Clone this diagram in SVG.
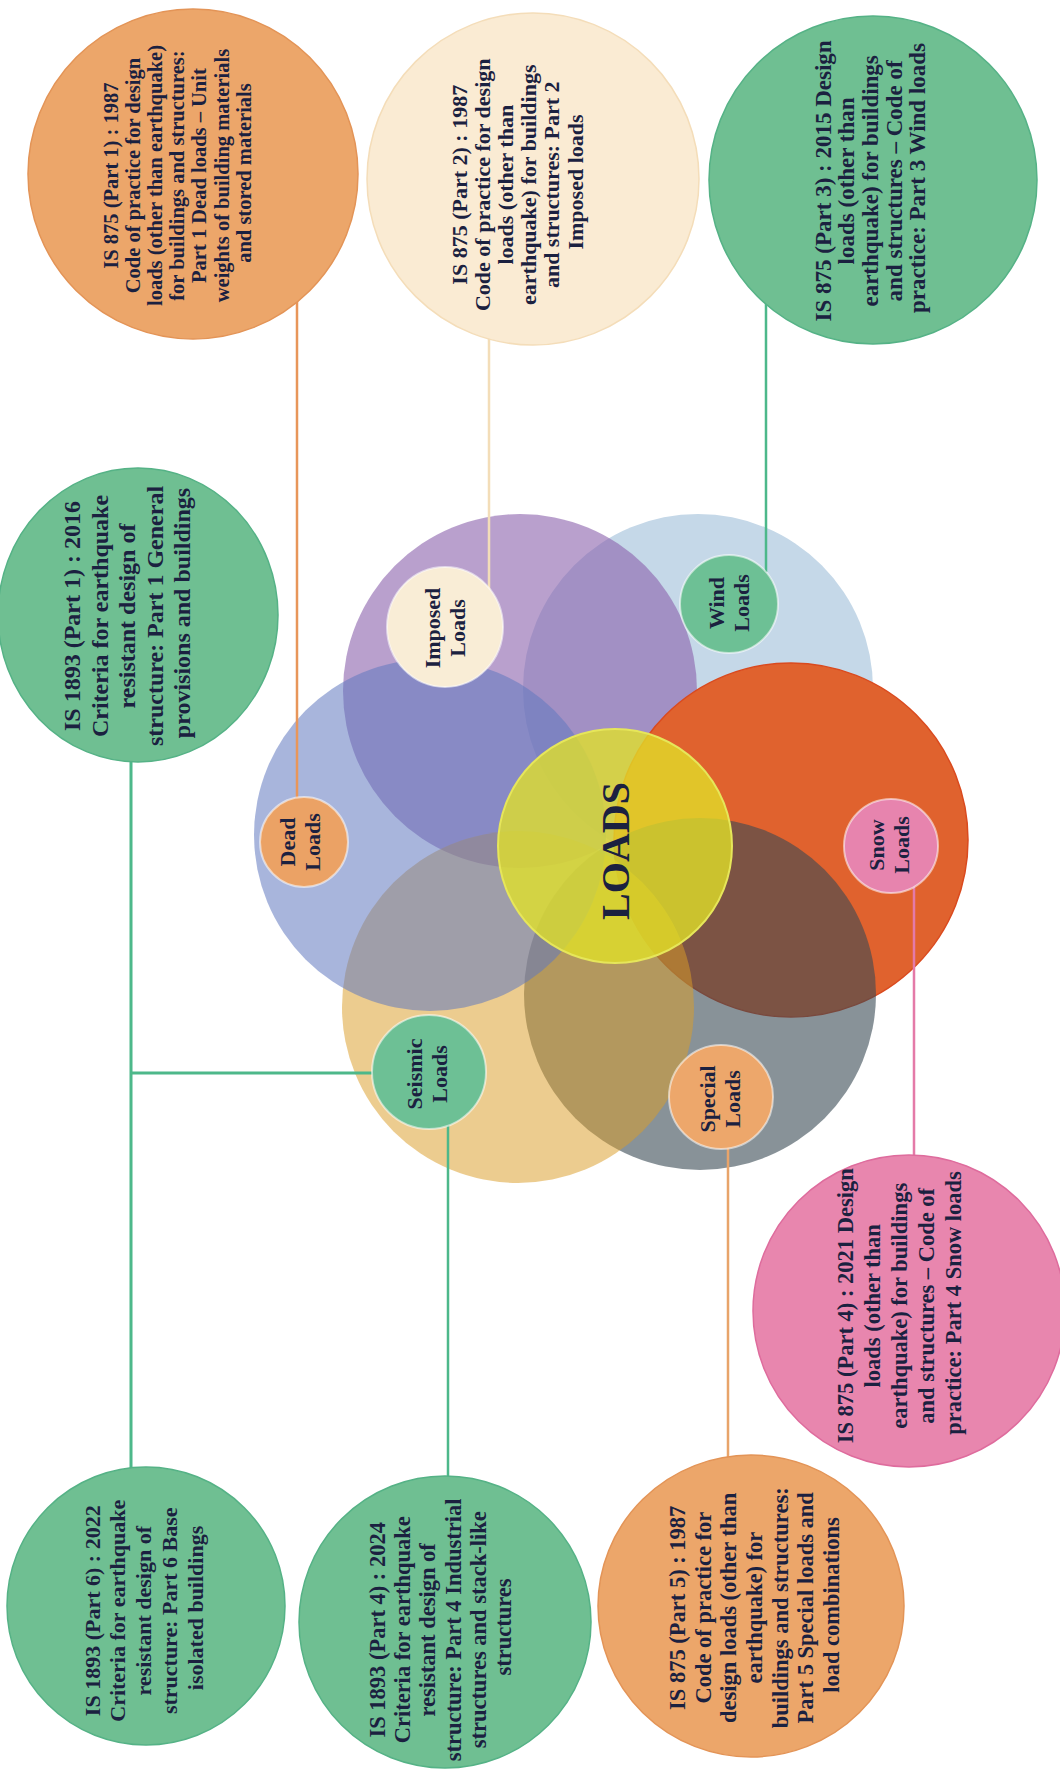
<svg xmlns="http://www.w3.org/2000/svg" width="1060" height="1772" viewBox="0 0 1060 1772">
<style>
.t{font-family:"Liberation Serif","Times New Roman",serif;font-weight:bold;fill:#1b2140;text-anchor:middle}
.sm{font-size:22px}
.big{stroke-width:1.5}
.lbl{stroke:#ffffff;stroke-opacity:0.55;stroke-width:2}
.grn{fill:#6FBF92;stroke:#55B286;stroke-width:1.5}
.org{fill:#ECA66A;stroke:#E39457;stroke-width:1.5}
.pnk{fill:#E886AE;stroke:#DE6C9D;stroke-width:1.5}
.crm{fill:#FAEBD3;stroke:#F4DDB9;stroke-width:1.5}
.ln{fill:none;stroke-width:2.5}
</style>
<rect width="1060" height="1772" fill="#ffffff"/>

<g id="venn">
  <circle id="c-wind" cx="698" cy="689" r="175" fill="#C5D8E8"/>
  <circle id="c-imposed" cx="520" cy="691" r="177" fill="rgb(138,97,172)" fill-opacity="0.6"/>
  <circle id="c-snow" cx="791" cy="840" r="177" fill="#E0622E" stroke="#DA4A1E" class="big"/>
  <circle id="c-special" cx="700" cy="994" r="176" fill="rgb(57,73,83)" fill-opacity="0.6"/>
  <circle id="c-seismic" cx="518" cy="1007" r="176" fill="rgb(218,157,40)" fill-opacity="0.52"/>
  <circle id="c-dead" cx="430" cy="835" r="176" fill="rgb(97,120,191)" fill-opacity="0.55"/>
</g>

<g id="loads">
  <circle cx="615" cy="846" r="117" fill="rgb(225,225,40)" fill-opacity="0.78" stroke="#E6E65A" stroke-width="2"/>
  <text class="t" font-size="40" transform="translate(616,851) rotate(-90)" x="0" y="13">LOADS</text>
</g>

<g id="connectors" class="ln">
  <line x1="297" y1="250" x2="297" y2="800" stroke="#E8965A"/>
  <line x1="489" y1="300" x2="489" y2="590" stroke="#F3DDB8"/>
  <line x1="766" y1="260" x2="766" y2="572" stroke="#4DB88A"/>
  <line x1="131" y1="700" x2="131" y2="1470" stroke="#4DB88A" stroke-width="3"/>
  <line x1="131" y1="1073" x2="375" y2="1073" stroke="#4DB88A" stroke-width="3"/>
  <line x1="448" y1="1100" x2="448" y2="1480" stroke="#4DB88A"/>
  <line x1="728" y1="1120" x2="728" y2="1460" stroke="#E8A46A"/>
  <line x1="914" y1="870" x2="914" y2="1160" stroke="#E47AA8"/>
</g>

<g id="dead-loads">
  <ellipse cx="304" cy="842" rx="44" ry="45" fill="#EBA265" class="lbl"/>
  <text class="t sm" transform="translate(300,842) rotate(-90)"><tspan x="0" y="-5">Dead</tspan><tspan x="0" y="20">Loads</tspan></text>
</g>
<g id="imposed-loads">
  <ellipse cx="445" cy="627" rx="58" ry="60" fill="#F9EDD6" class="lbl"/>
  <text class="t sm" transform="translate(445,628) rotate(-90)"><tspan x="0" y="-5">Imposed</tspan><tspan x="0" y="20">Loads</tspan></text>
</g>
<g id="wind-loads">
  <circle cx="729" cy="604" r="49" fill="#6DC095" class="lbl"/>
  <text class="t sm" transform="translate(729,603) rotate(-90)"><tspan x="0" y="-5">Wind</tspan><tspan x="0" y="20">Loads</tspan></text>
</g>
<g id="snow-loads">
  <circle cx="891" cy="846" r="47" fill="#E784AE" class="lbl"/>
  <text class="t sm" transform="translate(889,845) rotate(-90)"><tspan x="0" y="-5">Snow</tspan><tspan x="0" y="20">Loads</tspan></text>
</g>
<g id="seismic-loads">
  <circle cx="429" cy="1072" r="57" fill="#6DC095" class="lbl"/>
  <text class="t sm" transform="translate(427,1074) rotate(-90)"><tspan x="0" y="-5">Seismic</tspan><tspan x="0" y="20">Loads</tspan></text>
</g>
<g id="special-loads">
  <circle cx="721" cy="1097" r="52" fill="#EDA76B" class="lbl"/>
  <text class="t sm" transform="translate(720,1099) rotate(-90)"><tspan x="0" y="-5">Special</tspan><tspan x="0" y="20">Loads</tspan></text>
</g>

<g id="is875-part1">
  <circle cx="193" cy="174" r="165" class="org"/>
  <text class="t" font-size="20.5" transform="translate(177,173) rotate(-90)">
    <tspan x="0" y="-59.4">IS 875 (Part 1) : 1987</tspan>
    <tspan x="0" y="-37.2">Code of practice for design</tspan>
    <tspan x="0" y="-15">loads (other than earthquake)</tspan>
    <tspan x="0" y="7.2">for buildings and structures:</tspan>
    <tspan x="0" y="29.4">Part 1 Dead loads – Unit</tspan>
    <tspan x="0" y="51.6">weights of building materials</tspan>
    <tspan x="0" y="73.8">and stored materials</tspan>
  </text>
</g>

<g id="is875-part2">
  <circle cx="533" cy="179" r="166" class="crm"/>
  <text class="t" font-size="22" transform="translate(517,182) rotate(-90)">
    <tspan x="0" y="-50">IS 875 (Part 2) : 1987</tspan>
    <tspan x="0" y="-26.9">Code of practice for design</tspan>
    <tspan x="0" y="-3.8">loads (other than</tspan>
    <tspan x="0" y="19.3">earthquake) for buildings</tspan>
    <tspan x="0" y="42.4">and structures: Part 2</tspan>
    <tspan x="0" y="65.5">Imposed loads</tspan>
  </text>
</g>

<g id="is875-part3">
  <circle cx="873" cy="180" r="164" class="grn"/>
  <text class="t" font-size="23" transform="translate(870,178) rotate(-90)">
    <tspan x="0" y="-39.4">IS 875 (Part 3) : 2015 Design</tspan>
    <tspan x="0" y="-15.7">loads (other than</tspan>
    <tspan x="0" y="8">earthquake) for buildings</tspan>
    <tspan x="0" y="31.7">and structures – Code of</tspan>
    <tspan x="0" y="55.4">practice: Part 3 Wind loads</tspan>
  </text>
</g>

<g id="is1893-part1">
  <ellipse cx="138" cy="615" rx="140" ry="147" class="grn"/>
  <text class="t" font-size="24" transform="translate(127,613) rotate(-90)">
    <tspan x="0" y="-46.6">IS 1893 (Part 1) : 2016</tspan>
    <tspan x="0" y="-19.1">Criteria for earthquake</tspan>
    <tspan x="0" y="8.4">resistant design of</tspan>
    <tspan x="0" y="35.9">structure: Part 1 General</tspan>
    <tspan x="0" y="63.4">provisions and buildings</tspan>
  </text>
</g>

<g id="is1893-part6">
  <circle cx="146" cy="1606" r="139" class="grn"/>
  <text class="t" font-size="22" transform="translate(143.5,1608) rotate(-90)">
    <tspan x="0" y="-43.9">IS 1893 (Part 6) : 2022</tspan>
    <tspan x="0" y="-18.1">Criteria for earthquake</tspan>
    <tspan x="0" y="7.7">resistant design of</tspan>
    <tspan x="0" y="33.5">structure: Part 6 Base</tspan>
    <tspan x="0" y="59.3">isolated buildings</tspan>
  </text>
</g>

<g id="is1893-part4">
  <circle cx="445" cy="1622" r="146" class="grn"/>
  <text class="t" font-size="22.5" transform="translate(440,1627) rotate(-90)">
    <tspan x="0" y="-55.1">IS 1893 (Part 4) : 2024</tspan>
    <tspan x="0" y="-29.9">Criteria for earthquake</tspan>
    <tspan x="0" y="-4.7">resistant design of</tspan>
    <tspan x="0" y="20.5">structure: Part 4 Industrial</tspan>
    <tspan x="0" y="45.7">structures and stack-like</tspan>
    <tspan x="0" y="70.9">structures</tspan>
  </text>
</g>

<g id="is875-part5">
  <ellipse cx="751" cy="1606" rx="153" ry="151" class="org"/>
  <text class="t" font-size="22.5" transform="translate(754,1605) rotate(-90)">
    <tspan x="0" y="-69.2">IS 875 (Part 5) : 1987</tspan>
    <tspan x="0" y="-43.5">Code of practice for</tspan>
    <tspan x="0" y="-17.8">design loads (other than</tspan>
    <tspan x="0" y="7.9">earthquake) for</tspan>
    <tspan x="0" y="33.6">buildings and structures:</tspan>
    <tspan x="0" y="59.3">Part 5 Special loads and</tspan>
    <tspan x="0" y="85">load combinations</tspan>
  </text>
</g>

<g id="is875-part4">
  <circle cx="909" cy="1311" r="156" class="pnk"/>
  <text class="t" font-size="22.5" transform="translate(899,1303) rotate(-90)">
    <tspan x="0" y="-46.1">IS 875 (Part 4) : 2021 Design</tspan>
    <tspan x="0" y="-19.1">loads (other than</tspan>
    <tspan x="0" y="7.9">earthquake) for buildings</tspan>
    <tspan x="0" y="34.9">and structures – Code of</tspan>
    <tspan x="0" y="61.9">practice: Part 4 Snow loads</tspan>
  </text>
</g>
</svg>
